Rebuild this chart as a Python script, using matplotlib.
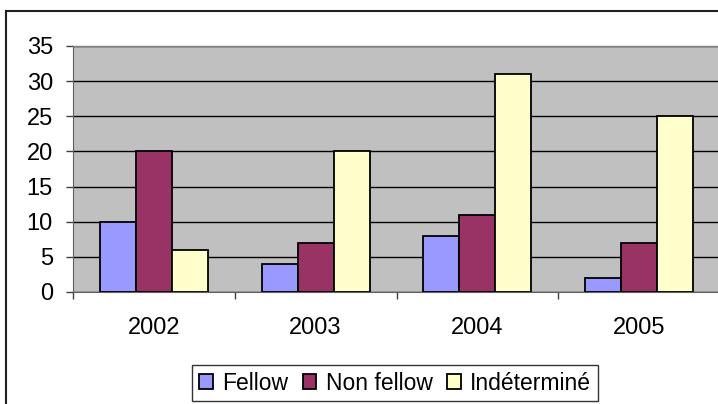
import matplotlib
matplotlib.use("Agg")
import matplotlib.pyplot as plt
from matplotlib.lines import Line2D
import numpy as np

years = ["2002", "2003", "2004", "2005"]
fellow = [10, 4, 8, 2]
non_fellow = [20, 7, 11, 7]
indetermine = [6, 20, 31, 25]
series_names = ["Fellow", "Non fellow", "Indéterminé"]
colors = ["#9999FF", "#993366", "#FFFFCC"]
yticks = [0, 5, 10, 15, 20, 25, 30, 35]

plt.rcParams['font.family'] = ['Liberation Sans', 'DejaVu Sans']
FS = 17
LFS = 16.5

W, H = 718, 404
fig = plt.figure(figsize=(W/100, H/100), dpi=100)
fig.patch.set_facecolor("white")

ax = fig.add_axes([73/W, 1-292/H, (720-73)/W, (292-46)/H])
ax.set_facecolor("#C0C0C0")

x = np.arange(len(years))
bw = 1/4.5
for i, (vals, name, c) in enumerate(zip([fellow, non_fellow, indetermine], series_names, colors)):
    ax.bar(x + (i-1)*bw, vals, width=bw, color=c, edgecolor="black", linewidth=1.3,
           label=name, zorder=3)

ax.set_xlim(-0.5, len(years)-0.5)
ax.set_ylim(0, 35)
ax.set_yticks(yticks)
ax.set_yticklabels([str(t) for t in yticks], fontsize=FS)
ax.yaxis.grid(True, color="black", linewidth=1.0, zorder=1)
ax.set_axisbelow(True)

ax.set_xticks(x)
ax.set_xticklabels(years, fontsize=FS)
ax.tick_params(axis="x", length=0, pad=18.3)
ax.set_xticks(np.arange(-0.5, len(years)), minor=True)
ax.tick_params(axis="x", which="minor", length=5.3, width=1, color="#404040", direction="out")
ax.tick_params(axis="y", length=5.3, width=1, color="#404040", direction="out", pad=9.2)

for s in ["top", "right"]:
    ax.spines[s].set_color("#808080")
    ax.spines[s].set_linewidth(1)
ax.spines["left"].set_color("#606060")
ax.spines["bottom"].set_color("#606060")

leg = fig.legend(loc="center", bbox_to_anchor=(395/W, 1-383/H), ncol=3, fontsize=LFS,
                 frameon=True, fancybox=False, edgecolor="black", handlelength=0.6,
                 handleheight=0.6, handletextpad=0.4, columnspacing=0.65,
                 borderpad=0.3, borderaxespad=0)
leg.get_frame().set_linewidth(1)

fig.add_artist(Line2D([6/W, 1], [1-11/H, 1-11/H], color="#202020", linewidth=1.5, transform=fig.transFigure))
fig.add_artist(Line2D([6/W, 6/W], [0, 1-11/H], color="#202020", linewidth=1.5, transform=fig.transFigure))

fig.savefig("out.png", dpi=100)
